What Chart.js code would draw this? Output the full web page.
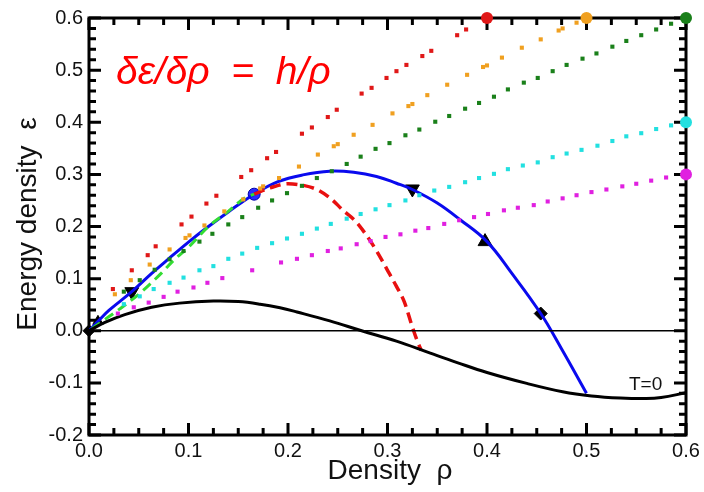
<!DOCTYPE html>
<html><head><meta charset="utf-8">
<script src="https://cdn.jsdelivr.net/npm/chart.js@4.4.0/dist/chart.umd.min.js"></script>
<style>html,body{margin:0;padding:0;background:#fff}</style>
</head><body>
<canvas id="c" width="704" height="492"></canvas>
<script>
// ---- tick labels ----
const xTickVals = [0, 0.1, 0.2, 0.3, 0.4, 0.5, 0.6];
const yTickVals = [-0.2, -0.1, 0, 0.1, 0.2, 0.3, 0.4, 0.5, 0.6];

// ---- T=0 curve (black) ----
const blackRho = [0, 0.016, 0.036, 0.063, 0.091, 0.125, 0.15, 0.172, 0.192, 0.209, 0.242, 0.274, 0.309, 0.343, 0.37, 0.4, 0.44, 0.476, 0.505, 0.534, 0.56, 0.575, 0.6];
const blackEps = [0, 0.016, 0.031, 0.045, 0.053, 0.057, 0.056, 0.051, 0.044, 0.036, 0.019, 0.0, -0.020, -0.043, -0.061, -0.080, -0.101, -0.117, -0.125, -0.129, -0.13, -0.128, -0.119];

// ---- blue solid curve ----
const blueRho = [0, 0.01, 0.02, 0.043, 0.063, 0.08, 0.1, 0.118, 0.14, 0.166, 0.19, 0.215, 0.242, 0.266, 0.289, 0.309, 0.325, 0.35, 0.373, 0.4, 0.425, 0.454, 0.475, 0.5];
const blueEps = [0, 0.02, 0.039, 0.075, 0.11, 0.138, 0.17, 0.197, 0.228, 0.262, 0.286, 0.299, 0.306, 0.304, 0.296, 0.283, 0.271, 0.245, 0.213, 0.171, 0.11, 0.033, -0.035, -0.12];

// ---- lime dashed curve ----
const limeRho = [0.003, 0.014, 0.031, 0.05, 0.061, 0.073, 0.085, 0.101, 0.12, 0.14, 0.156, 0.166];
const limeEps = [0.004, 0.019, 0.042, 0.07, 0.089, 0.111, 0.135, 0.162, 0.2, 0.229, 0.254, 0.262];

// ---- red dashed curve ----
const redDashRho = [0.166, 0.182, 0.2, 0.215, 0.229, 0.242, 0.256, 0.268, 0.28, 0.29, 0.3, 0.309, 0.317, 0.324, 0.33, 0.334];
const redDashEps = [0.262, 0.274, 0.282, 0.279, 0.271, 0.255, 0.23, 0.21, 0.18, 0.15, 0.116, 0.085, 0.055, 0.013, -0.02, -0.038];

// ---- dotted series (square dots) ----
const redDotRho = [0.024, 0.043, 0.059, 0.067, 0.093, 0.103, 0.118, 0.128, 0.153, 0.163, 0.179, 0.188, 0.214, 0.224, 0.240, 0.249, 0.274, 0.284, 0.299, 0.309, 0.319, 0.335, 0.344, 0.370, 0.379];
const redDotEps = [0.080, 0.116, 0.145, 0.162, 0.204, 0.219, 0.244, 0.259, 0.295, 0.308, 0.331, 0.343, 0.378, 0.390, 0.410, 0.424, 0.455, 0.466, 0.485, 0.498, 0.510, 0.527, 0.537, 0.567, 0.578];

const orangeDotRho = [0.026, 0.042, 0.061, 0.081, 0.097, 0.101, 0.116, 0.136, 0.155, 0.172, 0.175, 0.191, 0.211, 0.230, 0.246, 0.250, 0.266, 0.285, 0.305, 0.321, 0.325, 0.340, 0.360, 0.380, 0.396, 0.400, 0.415, 0.435, 0.454, 0.472, 0.476, 0.490];
const orangeDotEps = [0.070, 0.097, 0.127, 0.156, 0.178, 0.183, 0.202, 0.229, 0.252, 0.273, 0.277, 0.293, 0.315, 0.338, 0.354, 0.358, 0.376, 0.395, 0.417, 0.431, 0.435, 0.452, 0.472, 0.491, 0.506, 0.509, 0.524, 0.543, 0.559, 0.576, 0.580, 0.591];

const greenDotRho = [0.035, 0.051, 0.066, 0.081, 0.095, 0.111, 0.124, 0.140, 0.154, 0.170, 0.184, 0.199, 0.214, 0.229, 0.244, 0.259, 0.273, 0.288, 0.302, 0.318, 0.332, 0.348, 0.362, 0.378, 0.392, 0.407, 0.421, 0.437, 0.451, 0.466, 0.480, 0.496, 0.510, 0.526, 0.540, 0.555, 0.570, 0.585];
const greenDotEps = [0.075, 0.097, 0.117, 0.137, 0.153, 0.171, 0.186, 0.204, 0.218, 0.236, 0.250, 0.264, 0.278, 0.293, 0.306, 0.320, 0.334, 0.349, 0.360, 0.375, 0.386, 0.401, 0.412, 0.426, 0.437, 0.449, 0.463, 0.476, 0.485, 0.498, 0.510, 0.522, 0.532, 0.545, 0.556, 0.567, 0.578, 0.589];

const cyanDotRho = [0.035, 0.051, 0.065, 0.081, 0.095, 0.111, 0.125, 0.140, 0.154, 0.169, 0.184, 0.199, 0.214, 0.229, 0.243, 0.259, 0.273, 0.288, 0.302, 0.318, 0.332, 0.347, 0.362, 0.378, 0.392, 0.407, 0.421, 0.436, 0.451, 0.466, 0.480, 0.495, 0.511, 0.526, 0.540, 0.555, 0.570, 0.585];
const cyanDotEps = [0.051, 0.066, 0.080, 0.092, 0.102, 0.116, 0.124, 0.138, 0.148, 0.159, 0.168, 0.177, 0.186, 0.196, 0.205, 0.215, 0.224, 0.233, 0.241, 0.250, 0.260, 0.269, 0.276, 0.285, 0.293, 0.301, 0.310, 0.317, 0.323, 0.333, 0.340, 0.347, 0.355, 0.364, 0.373, 0.379, 0.387, 0.394];

const magentaDotRho = [0.029, 0.045, 0.060, 0.075, 0.089, 0.105, 0.119, 0.134, 0.164, 0.193, 0.209, 0.224, 0.240, 0.253, 0.269, 0.283, 0.298, 0.313, 0.328, 0.341, 0.357, 0.372, 0.387, 0.401, 0.417, 0.431, 0.447, 0.461, 0.476, 0.490, 0.505, 0.520, 0.536, 0.550, 0.565, 0.580];
const magentaDotEps = [0.033, 0.045, 0.054, 0.065, 0.075, 0.083, 0.092, 0.101, 0.116, 0.131, 0.138, 0.145, 0.153, 0.158, 0.166, 0.172, 0.180, 0.185, 0.192, 0.197, 0.205, 0.212, 0.218, 0.224, 0.231, 0.236, 0.241, 0.248, 0.254, 0.260, 0.266, 0.271, 0.277, 0.282, 0.288, 0.294];

// ---- end circles of dotted series ----
const endRho = [0.4, 0.5, 0.6, 0.6, 0.6];
const endEps = [0.6, 0.6, 0.6, 0.4, 0.3];
const endColors = ['#e01818', '#f0a020', '#1a801a', '#22e0e0', '#e020e0'];

// ---- black markers on blue curve ----
const markRho = [0.0, 0.009, 0.043, 0.325, 0.398, 0.454];
const markEps = [0.0, 0.018, 0.075, 0.272, 0.171, 0.033];
const markStyle = ['rectRot', 'triangle', 'triangle', 'triangle', 'triangle', 'rectRot'];
const markRot = [0, 0, 180, 180, 0, 0];
const markSize = [6, 6, 8, 8, 8, 6.5];

const circleRho = [0.166];
const circleEps = [0.262];

const FONT = "'Liberation Sans', Arial, Helvetica, sans-serif";
const pts = (xs, ys) => xs.map((x, i) => ({x: x, y: ys[i]}));

function dots(xs, ys, color) {
  return {data: pts(xs, ys), showLine: false, pointStyle: 'rect', pointRadius: 2.9,
    pointBackgroundColor: color, pointBorderWidth: 0, pointHoverRadius: 0, clip: false};
}
function curve(xs, ys, color, width, dash, smooth) {
  const d = {data: pts(xs, ys), borderColor: color, borderWidth: width, borderDash: dash || [],
    pointRadius: 0, fill: false, borderCapStyle: 'butt'};
  if (smooth) { d.tension = 0.4; } else { d.cubicInterpolationMode = 'monotone'; }
  return d;
}

const datasets = [
  dots(magentaDotRho, magentaDotEps, '#e020e0'),
  dots(cyanDotRho, cyanDotEps, '#22e0e0'),
  dots(greenDotRho, greenDotEps, '#1a801a'),
  dots(orangeDotRho, orangeDotEps, '#f0a020'),
  dots(redDotRho, redDotEps, '#e01818'),
  {data: pts([0, 0.6], [0, 0]), borderColor: '#000', borderWidth: 1.5, pointRadius: 0},
  curve(blackRho, blackEps, '#000', 3, null, true),
  curve(limeRho, limeEps, '#33dd33', 3, [10, 6]),
  curve(redDashRho, redDashEps, '#e81010', 3.5, [11, 6]),
  curve(blueRho, blueEps, '#0a0aee', 3, null, true),
  {data: pts(circleRho, circleEps), showLine: false, pointStyle: 'circle', pointRadius: 6,
    pointBackgroundColor: '#2a2aff', pointBorderColor: '#0000aa', pointBorderWidth: 1},
  {data: pts(markRho, markEps), showLine: false, pointStyle: markStyle, pointRotation: markRot,
    pointRadius: markSize, pointBackgroundColor: '#000', pointBorderColor: '#000', pointBorderWidth: 1, clip: false},
  {data: pts(endRho, endEps), showLine: false, pointStyle: 'circle', pointRadius: 6,
    pointBackgroundColor: endColors, pointBorderColor: endColors, pointBorderWidth: 0, clip: false}
];

const framePlugin = {
  id: 'frame',
  beforeDatasetsDraw(chart) {
    const {ctx, chartArea: a, scales: {x, y}} = chart;
    ctx.save();
    ctx.strokeStyle = '#000';
    ctx.lineWidth = 3;
    ctx.lineCap = 'butt';
    ctx.beginPath();
    for (let i = 0; i <= 24; i++) {
      const v = i * 0.025;
      const px = x.getPixelForValue(v);
      const L = (i % 4 === 0) ? 12 : 7;
      ctx.moveTo(px, a.bottom); ctx.lineTo(px, a.bottom - L);
      ctx.moveTo(px, a.top); ctx.lineTo(px, a.top + L);
    }
    for (let i = 0; i <= 40; i++) {
      const v = -0.2 + i * 0.02;
      const py = y.getPixelForValue(v);
      const L = (i % 5 === 0) ? 12 : 7;
      ctx.moveTo(a.left, py); ctx.lineTo(a.left + L, py);
      ctx.moveTo(a.right, py); ctx.lineTo(a.right - L, py);
    }
    ctx.stroke();
    ctx.strokeRect(a.left, a.top, a.right - a.left, a.bottom - a.top);
    ctx.restore();
  },
  afterDraw(chart) {
    const {ctx} = chart;
    ctx.save();
    ctx.fillStyle = '#111';
    ctx.font = '28px ' + FONT;
    ctx.textAlign = 'center';
    ctx.textBaseline = 'alphabetic';
    ctx.fillText('Density  \u03c1', 390, 479);
    ctx.save();
    ctx.translate(36, 224);
    ctx.rotate(-Math.PI / 2);
    ctx.fillText('Energy density  \u03b5', 0, 0);
    ctx.restore();
    ctx.textAlign = 'left';
    ctx.font = '19px ' + FONT;
    ctx.fillText('T=0', 629, 390);
    ctx.fillStyle = '#ff0000';
    ctx.font = 'italic 39px ' + FONT;
    ctx.fillText('\u03b4\u03b5/\u03b4\u03c1  =  h/\u03c1', 116, 84);
    ctx.restore();
  }
};

const tickFmt = v => (Math.abs(v) < 1e-9 ? '0.0' : Number(v).toFixed(1));

new Chart(document.getElementById('c'), {
  type: 'line',
  data: {datasets: datasets},
  options: {
    responsive: false, animation: false, devicePixelRatio: 1,
    layout: {padding: {left: 0, right: 18, top: 16, bottom: 0}, autoPadding: false},
    plugins: {legend: {display: false}, tooltip: {enabled: false}},
    elements: {line: {tension: 0}},
    scales: {
      x: {
        type: 'linear', min: 0, max: 0.6,
        grid: {display: false, drawTicks: false}, border: {display: false},
        afterBuildTicks: s => { s.ticks = xTickVals.map(v => ({value: v})); },
        ticks: {padding: 4, font: {family: FONT, size: 20}, color: '#111', callback: tickFmt, maxRotation: 0, autoSkip: false},
        afterFit: s => { s.height = 57; }
      },
      y: {
        type: 'linear', min: -0.2, max: 0.6,
        grid: {display: false, drawTicks: false}, border: {display: false},
        afterBuildTicks: s => { s.ticks = yTickVals.map(v => ({value: v})); },
        ticks: {padding: 6, font: {family: FONT, size: 20}, color: '#111', callback: tickFmt, autoSkip: false},
        afterFit: s => { s.width = 89; }
      }
    }
  },
  plugins: [framePlugin]
});
</script>
</body></html>
